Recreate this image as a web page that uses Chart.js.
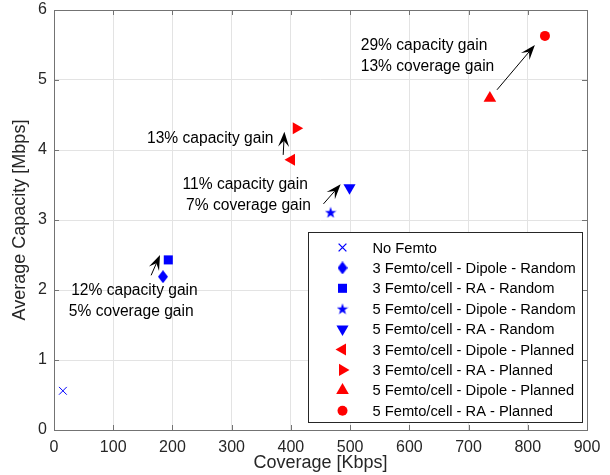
<!DOCTYPE html>
<html lang="en">
<head>
    <meta charset="UTF-8">
    <title>Coverage vs Capacity</title>
    <script src="https://cdn.jsdelivr.net/npm/chart.js"></script>
    <style>
        html, body { margin: 0; padding: 0; background: #fff; }
        #wrap { width: 610px; height: 475px; position: relative; }
    </style>
</head>
<body>
    <div id="wrap"><canvas id="chart"></canvas></div>

    <script>
        // Series (one point each)
        const seriesLabels = [
            'No Femto',
            '3 Femto/cell - Dipole - Random',
            '3 Femto/cell - RA - Random',
            '5 Femto/cell - Dipole - Random',
            '5 Femto/cell - RA - Random',
            '3 Femto/cell - Dipole - Planned',
            '3 Femto/cell - RA - Planned',
            '5 Femto/cell - Dipole - Planned',
            '5 Femto/cell - RA - Planned'
        ];
        const coverage = [15, 184, 193, 467, 499, 401, 409, 736, 829];
        const capacity = [0.56, 2.19, 2.43, 3.11, 3.46, 3.86, 4.31, 4.74, 5.63];

        // Axis ticks
        const xTicks = [0, 100, 200, 300, 400, 500, 600, 700, 800, 900];
        const yTicks = [0, 1, 2, 3, 4, 5, 6];

        // Annotations (data coords: left edge / middle of line)
        const noteText = ['29% capacity gain', '13% coverage gain', '13% capacity gain',
                          '11% capacity gain', '7% coverage gain', '12% capacity gain', '5% coverage gain'];
        const noteX = [518, 518, 157, 217, 223, 29, 25];
        const noteY = [5.49, 5.19, 4.16, 3.51, 3.21, 1.99, 1.69];

        // Arrows (from -> to, data coords)
        const arrowFromX = [164, 387, 455, 748];
        const arrowFromY = [2.21, 3.93, 3.23, 4.86];
        const arrowToX = [179, 389, 484, 812];
        const arrowToY = [2.50, 4.26, 3.51, 5.50];

        const FONT = "'Liberation Sans', Arial, Helvetica, sans-serif";
        const BLUE = '#0000ff', RED = '#ff0000', AXIS = '#262626', FRAME = '#737373';

        function makeMarker(w, h, draw) {
            const c = document.createElement('canvas');
            c.width = w; c.height = h;
            const g = c.getContext('2d');
            draw(g, w, h);
            return c;
        }
        const diamond = makeMarker(10, 13, (g, w, h) => {
            g.fillStyle = BLUE;
            g.beginPath();
            g.moveTo(w / 2, 0); g.lineTo(w, h / 2); g.lineTo(w / 2, h); g.lineTo(0, h / 2);
            g.closePath(); g.fill();
        });
        const star = makeMarker(12, 12, (g, w, h) => {
            g.fillStyle = BLUE;
            g.beginPath();
            const cx = w / 2, cy = h / 2 + 0.6, ro = 6, ri = 2.4;
            for (let i = 0; i < 10; i++) {
                const r = i % 2 ? ri : ro;
                const a = -Math.PI / 2 + i * Math.PI / 5;
                const px = cx + r * Math.cos(a), py = cy + r * Math.sin(a);
                i ? g.lineTo(px, py) : g.moveTo(px, py);
            }
            g.closePath(); g.fill();
        });

        const styles = [
            { pointStyle: 'crossRot', rotation: 0, radius: 5.5, color: BLUE },
            { pointStyle: diamond, rotation: 0, radius: 6, color: BLUE },
            { pointStyle: 'rect', rotation: 0, radius: 6.4, color: BLUE },
            { pointStyle: star, rotation: 0, radius: 6, color: BLUE },
            { pointStyle: 'triangle', rotation: 180, radius: 7, color: BLUE },
            { pointStyle: 'triangle', rotation: 270, radius: 7, color: RED },
            { pointStyle: 'triangle', rotation: 90, radius: 7, color: RED },
            { pointStyle: 'triangle', rotation: 0, radius: 7.3, color: RED },
            { pointStyle: 'circle', rotation: 0, radius: 5, color: RED }
        ];

        const datasets = seriesLabels.map((label, i) => ({
            label: label,
            data: [{ x: coverage[i], y: capacity[i] }],
            pointStyle: styles[i].pointStyle,
            rotation: styles[i].rotation,
            pointRadius: styles[i].radius,
            pointHoverRadius: styles[i].radius,
            backgroundColor: styles[i].color,
            borderColor: styles[i].color,
            borderWidth: i === 0 ? 1 : 0
        }));

        function drawArrow(ctx, x1, y1, x2, y2) {
            const a = Math.atan2(y2 - y1, x2 - x1);
            const L = 15, W = 5.5;
            const ux = Math.cos(a), uy = Math.sin(a);
            ctx.strokeStyle = '#000';
            ctx.fillStyle = '#000';
            ctx.lineWidth = 1;
            ctx.beginPath();
            ctx.moveTo(x1, y1);
            ctx.lineTo(x2 - ux * L * 0.6, y2 - uy * L * 0.6);
            ctx.stroke();
            ctx.beginPath();
            ctx.moveTo(x2, y2);
            ctx.lineTo(x2 - ux * L - uy * W, y2 - uy * L + ux * W);
            ctx.lineTo(x2 - ux * L * 0.6, y2 - uy * L * 0.6);
            ctx.lineTo(x2 - ux * L + uy * W, y2 - uy * L - ux * W);
            ctx.closePath();
            ctx.fill();
        }

        const matlabLook = {
            id: 'matlabLook',
            afterDatasetsDraw(chart) {
                const { ctx, chartArea: ca, scales } = chart;
                const xs = scales.x, ys = scales.y;
                ctx.save();

                // box + inward ticks
                ctx.strokeStyle = FRAME;
                ctx.lineWidth = 1;
                ctx.strokeRect(Math.round(ca.left) + 0.5, Math.round(ca.top) + 0.5,
                    Math.round(ca.right - ca.left), Math.round(ca.bottom - ca.top));
                ctx.beginPath();
                xTicks.forEach(v => {
                    const px = Math.round(xs.getPixelForValue(v)) + 0.5;
                    ctx.moveTo(px, ca.bottom); ctx.lineTo(px, ca.bottom - 5);
                    ctx.moveTo(px, ca.top); ctx.lineTo(px, ca.top + 5);
                });
                yTicks.forEach(v => {
                    const py = Math.round(ys.getPixelForValue(v)) + 0.5;
                    ctx.moveTo(ca.left, py); ctx.lineTo(ca.left + 5, py);
                    ctx.moveTo(ca.right, py); ctx.lineTo(ca.right - 5, py);
                });
                ctx.stroke();

                // annotations
                ctx.fillStyle = '#000';
                ctx.font = '15.6px ' + FONT;
                ctx.textAlign = 'left';
                ctx.textBaseline = 'middle';
                noteText.forEach((t, i) => {
                    ctx.fillText(t, xs.getPixelForValue(noteX[i]), ys.getPixelForValue(noteY[i]));
                });
                arrowFromX.forEach((v, i) => {
                    drawArrow(ctx,
                        xs.getPixelForValue(arrowFromX[i]), ys.getPixelForValue(arrowFromY[i]),
                        xs.getPixelForValue(arrowToX[i]), ys.getPixelForValue(arrowToY[i]));
                });

                // legend box
                const lw = 274, lh = 190;
                const lx = Math.round(ca.right - 5 - lw) + 0.5, ly = Math.round(ca.bottom - 8 - lh) + 0.5;
                ctx.fillStyle = '#fff';
                ctx.fillRect(lx, ly, lw, lh);
                ctx.strokeStyle = AXIS;
                ctx.lineWidth = 1;
                ctx.strokeRect(lx, ly, lw, lh);
                ctx.font = '14.7px ' + FONT;
                const rowH = 20.4;
                chart.data.datasets.forEach((ds, i) => {
                    const cy = ly + 15 + i * rowH;
                    const mx = lx + 34;
                    ctx.fillStyle = styles[i].color;
                    ctx.strokeStyle = styles[i].color;
                    if (styles[i].pointStyle === 'crossRot') {
                        const d = styles[i].radius * Math.SQRT1_2;
                        ctx.lineWidth = 1.3;
                        ctx.beginPath();
                        ctx.moveTo(mx - d, cy - d); ctx.lineTo(mx + d, cy + d);
                        ctx.moveTo(mx - d, cy + d); ctx.lineTo(mx + d, cy - d);
                        ctx.stroke();
                    } else {
                        Chart.helpers.drawPoint(ctx, {
                            pointStyle: styles[i].pointStyle,
                            rotation: styles[i].rotation,
                            radius: styles[i].radius,
                            borderWidth: 0
                        }, mx, cy);
                    }
                    ctx.fillStyle = '#000';
                    ctx.fillText(ds.label, lx + 64, cy + 1);
                });
                ctx.restore();
            }
        };

        new Chart(document.getElementById('chart'), {
            type: 'scatter',
            data: { datasets: datasets },
            options: {
                responsive: true,
                maintainAspectRatio: false,
                animation: false,
                events: [],
                layout: { padding: { top: 10, right: 23, left: 0, bottom: 0 } },
                plugins: { legend: { display: false }, tooltip: { enabled: false } },
                scales: {
                    x: {
                        type: 'linear', min: 0, max: 900,
                        afterBuildTicks: s => { s.ticks = xTicks.map(v => ({ value: v })); },
                        afterFit: s => { s.height = 45; s.paddingLeft = 0; s.paddingRight = 0; },
                        grid: { color: '#e3e3e3', drawTicks: false },
                        border: { display: false },
                        ticks: { color: AXIS, font: { family: FONT, size: 16 }, padding: 8, maxRotation: 0 },
                        title: { display: true, text: 'Coverage [Kbps]', color: AXIS,
                                 font: { family: FONT, size: 18 }, padding: { top: 0, bottom: 1 } }
                    },
                    y: {
                        type: 'linear', min: 0, max: 6,
                        afterBuildTicks: s => { s.ticks = yTicks.map(v => ({ value: v })); },
                        afterFit: s => { s.width = 54; s.paddingTop = 0; s.paddingBottom = 0; },
                        grid: { color: '#e3e3e3', drawTicks: false },
                        border: { display: false },
                        ticks: { color: AXIS, font: { family: FONT, size: 16 }, padding: 7 },
                        title: { display: true, text: 'Average Capacity [Mbps]', color: AXIS,
                                 font: { family: FONT, size: 18 }, padding: { top: 9, bottom: 0 } }
                    }
                }
            },
            plugins: [matlabLook]
        });
    </script>
</body>
</html>
